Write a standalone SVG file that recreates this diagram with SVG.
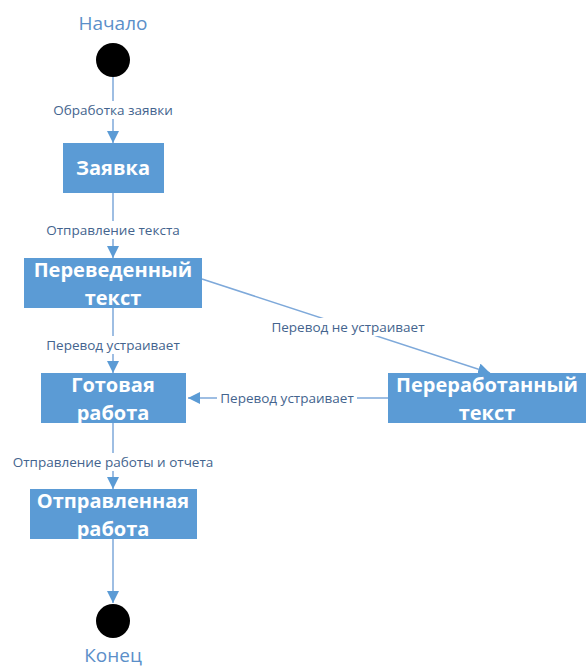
<svg xmlns="http://www.w3.org/2000/svg" width="586" height="668" viewBox="0 0 586 668">
<style>
.box{fill:#5B9BD5;}
.bt{font-family:"Open Sans","Liberation Sans",sans-serif;font-weight:bold;font-size:20px;fill:#ffffff;text-anchor:middle;}
.lbl{font-family:"Open Sans","Liberation Sans",sans-serif;font-size:13.5px;fill:#44648E;text-anchor:middle;}
.ttl{font-family:"Open Sans","Liberation Sans",sans-serif;font-size:19px;fill:#5B8FC9;text-anchor:middle;}
.ln{stroke:#7EA9DA;stroke-width:1.5;fill:none;}
.lb{fill:#ffffff;}
</style>
<defs>
<marker id="ah" markerWidth="12" markerHeight="12" viewBox="0 0 12 12" refX="12" refY="6" orient="auto" markerUnits="userSpaceOnUse">
<path d="M0,0 L12,6 L0,12 Z" fill="#5B9BD5"/>
</marker>
</defs>
<g id="connectors">
<line class="ln" x1="113" y1="77" x2="113" y2="143" marker-end="url(#ah)"/>
<line class="ln" x1="113" y1="193" x2="113" y2="258" marker-end="url(#ah)"/>
<line class="ln" x1="113" y1="308" x2="113" y2="373" marker-end="url(#ah)"/>
<line class="ln" x1="202" y1="279" x2="490" y2="373" marker-end="url(#ah)"/>
<line class="ln" x1="388" y1="398" x2="188" y2="398" marker-end="url(#ah)"/>
<line class="ln" x1="113" y1="423" x2="113" y2="489" marker-end="url(#ah)"/>
<line class="ln" x1="113" y1="539" x2="113" y2="603" marker-end="url(#ah)"/>
<rect class="lb" x="50" y="101" width="126" height="18"/>
<text class="lbl" x="113" y="115">Обработка заявки</text>
<rect class="lb" x="40" y="221" width="146" height="18"/>
<text class="lbl" x="113" y="235">Отправление текста</text>
<rect class="lb" x="40" y="336" width="146" height="18"/>
<text class="lbl" x="113" y="350">Перевод устраивает</text>
<rect class="lb" x="265" y="318" width="166" height="18"/>
<text class="lbl" x="348" y="332">Перевод не устраивает</text>
<rect class="lb" x="217" y="389" width="140" height="18"/>
<text class="lbl" x="287" y="403">Перевод устраивает</text>
<rect class="lb" x="10" y="453" width="206" height="18"/>
<text class="lbl" x="113" y="467">Отправление работы и отчета</text>
</g>
<g id="start">
<text class="ttl" x="113" y="30">Начало</text>
<circle cx="113" cy="60" r="17" fill="#000"/>
</g>
<g id="zayavka">
<rect class="box" x="63" y="143" width="101" height="50"/>
<text class="bt" x="113" y="175">Заявка</text>
</g>
<g id="perevedenny">
<rect class="box" x="24" y="258" width="178" height="50"/>
<text class="bt" x="113" y="277">Переведенный</text>
<text class="bt" x="113" y="305">текст</text>
</g>
<g id="gotovaya">
<rect class="box" x="41" y="373" width="145" height="50"/>
<text class="bt" x="113" y="392">Готовая</text>
<text class="bt" x="113" y="420">работа</text>
</g>
<g id="pererabotanny">
<rect class="box" x="388" y="373" width="198" height="50"/>
<text class="bt" x="487" y="392">Переработанный</text>
<text class="bt" x="487" y="420">текст</text>
</g>
<g id="otpravlennaya">
<rect class="box" x="30" y="489" width="167" height="50"/>
<text class="bt" x="113" y="508">Отправленная</text>
<text class="bt" x="113" y="536">работа</text>
</g>
<g id="end">
<circle cx="113" cy="621" r="17" fill="#000"/>
<text class="ttl" x="113" y="662">Конец</text>
</g>
</svg>
